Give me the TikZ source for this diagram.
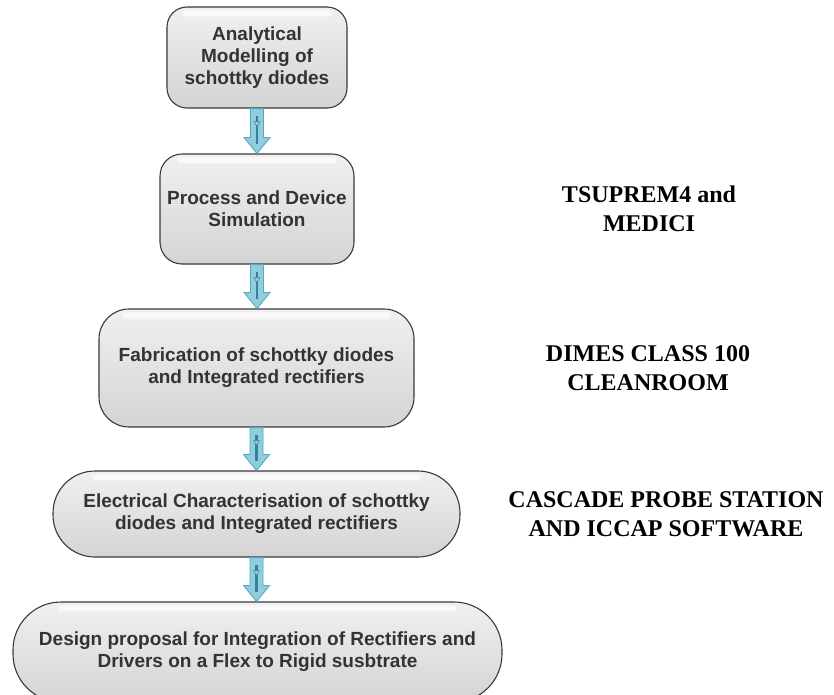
\documentclass[tikz,border=0pt]{standalone}
\usepackage{fontspec}
\setmainfont{Liberation Serif}
\newfontfamily\boxfont{Liberation Sans}
\usetikzlibrary{calc}
\definecolor{boxtext}{HTML}{333333}
\definecolor{boxline}{HTML}{3A3A3A}
\definecolor{boxtop}{HTML}{F0F0F0}
\definecolor{boxbot}{HTML}{D4D4D4}
\definecolor{arrfill}{HTML}{93CDDD}
\definecolor{arrline}{HTML}{4BACC6}
\definecolor{arrcore}{HTML}{31849B}
\newcommand\flowarrow[2]{%
  \path let \p1=(#1.south), \p2=(#2.north) in
    [fill=arrfill, draw=arrline, line width=0.9pt, line join=miter]
    (\x1-6.5pt,\y1) -- (\x1+6.5pt,\y1) -- (\x1+6.5pt,\y2+16pt) -- (\x1+13pt,\y2+16pt)
    -- (\x1,\y2) -- (\x1-13pt,\y2+16pt) -- (\x1-6.5pt,\y2+16pt) -- cycle;
  \path let \p1=(#1.south), \p2=(#2.north) in
    [draw=arrcore, line width=2.2pt] (\x1,\y1-7pt) -- (\x1,\y2+9pt);
  \path let \p1=(#1.south) in
    [fill=arrfill, draw=arrcore, line width=0.5pt]
    (\x1-3pt,\y1-13pt) -- (\x1+3pt,\y1-13pt) -- (\x1,\y1-18pt) -- cycle;
}
\newcommand\gloss[2]{%
  \fill[white, opacity=0.65, rounded corners=2.5pt]
    ($(#1.north west)+(#2,4)$) rectangle ($(#1.north east)+(-#2,10)$);
}
\begin{document}
\begin{tikzpicture}[x=1pt,y=-1pt,
  stage/.style={draw=boxline, line width=1.1pt, top color=boxtop, bottom color=boxbot,
    text=boxtext, align=center, inner sep=2pt,
    font=\boxfont\bfseries\fontsize{19}{22}\selectfont},
  sidetext/.style={align=center, text=black, inner sep=0pt,
    font=\bfseries\fontsize{24}{29}\selectfont}]
\useasboundingbox[fill=white] (0,0) rectangle (834,694);
\clip (0,0) rectangle (834,694);

\node[stage, minimum width=180pt, minimum height=101pt, rounded corners=20pt] (s1) at (257,57.5)
  {Analytical\\Modelling of\\schottky diodes};
\node[stage, minimum width=194pt, minimum height=110pt, rounded corners=22pt] (s2) at (257,209)
  {Process and Device\\Simulation};
\node[stage, minimum width=315pt, minimum height=118pt, rounded corners=30pt] (s3) at (256.5,368)
  {Fabrication of schottky diodes\\and Integrated rectifiers};
\node[stage, minimum width=407pt, minimum height=86pt, rounded corners=42pt] (s4) at (256.5,514)
  {Electrical Characterisation of schottky\\diodes and Integrated rectifiers};
\node[stage, minimum width=489pt, minimum height=100pt, rounded corners=48pt] (s5) at (257.5,652)
  {Design proposal for Integration of Rectifiers and\\Drivers on a Flex to Rigid susbtrate};

\gloss{s1}{16}
\gloss{s2}{18}
\gloss{s3}{24}
\gloss{s4}{40}
\gloss{s5}{46}

\flowarrow{s1}{s2}
\flowarrow{s2}{s3}
\flowarrow{s3}{s4}
\flowarrow{s4}{s5}

\node[sidetext] (t2) at (649,209) {TSUPREM4 and\\MEDICI};
\node[sidetext] (t3) at (648,368) {DIMES CLASS 100\\CLEANROOM};
\node[sidetext] (t4) at (666,514) {CASCADE PROBE STATION\\AND ICCAP SOFTWARE};
\end{tikzpicture}
\end{document}
